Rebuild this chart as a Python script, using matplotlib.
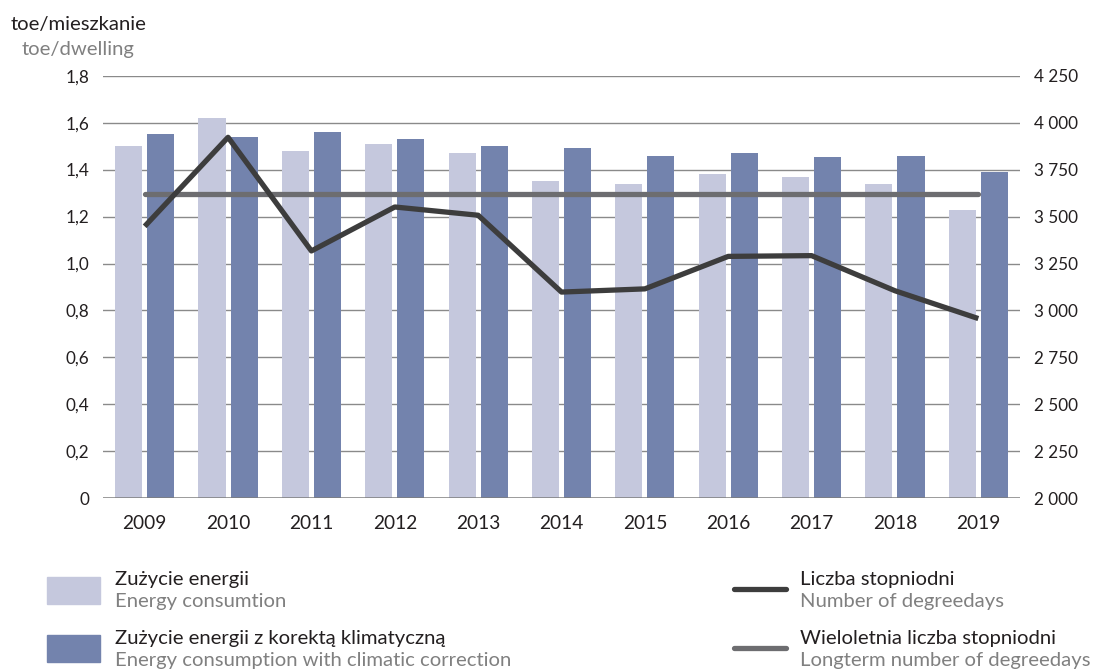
import matplotlib
matplotlib.use("Agg")
import matplotlib.pyplot as plt
from matplotlib.patches import Rectangle
from matplotlib.lines import Line2D
import numpy as np

# ---- data ----
years = ["2009", "2010", "2011", "2012", "2013", "2014", "2015", "2016", "2017", "2018", "2019"]
energy = [1.50, 1.62, 1.48, 1.51, 1.47, 1.35, 1.34, 1.38, 1.37, 1.34, 1.23]
energy_corr = [1.55, 1.54, 1.56, 1.53, 1.50, 1.49, 1.46, 1.47, 1.455, 1.46, 1.39]
degreedays = [3448, 3922, 3317, 3551, 3507, 3098, 3115, 3288, 3292, 3105, 2957]
longterm = [3621] * len(years)

left_ticks = [0, 0.2, 0.4, 0.6, 0.8, 1.0, 1.2, 1.4, 1.6, 1.8]
right_ticks = [2000, 2250, 2500, 2750, 3000, 3250, 3500, 3750, 4000, 4250]

# ---- style ----
FONT = ["Lato", "DejaVu Sans"]
plt.rcParams["font.family"] = FONT
C_LIGHT = "#c5c8dd"
C_DARK = "#7383ad"
C_LINE = "#3d3d3d"
C_LONG = "#6d6d70"
C_TEXT = "#231f20"
C_GRAY = "#808080"
C_GRID = "#8a8a8a"

W, H = 1095, 670
fig = plt.figure(figsize=(W / 100, H / 100), dpi=100)

def fx(px):
    return px / W

def fy(py):
    return 1 - py / H

ax_l, ax_r, ax_t, ax_b = 103, 1020, 75.7, 498.3
ax = fig.add_axes([fx(ax_l), fy(ax_b), fx(ax_r - ax_l), (ax_b - ax_t) / H])

x = np.arange(len(years))
bw = 0.325
off = 0.193
ax.bar(x - off, energy, width=bw, color=C_LIGHT, zorder=2)
ax.bar(x + off, energy_corr, width=bw, color=C_DARK, zorder=2)

ax.set_xlim(-0.5, len(years) - 0.5)
ax.set_ylim(0, 1.8)
ax.set_yticks(left_ticks)
ax.set_yticklabels(["0" if v == 0 else f"{v:.1f}".replace(".", ",") for v in left_ticks])
ax.set_xticks(x)
ax.set_xticklabels(years)
for v in left_ticks[1:]:
    ax.axhline(v, color=C_GRID, lw=1.0, zorder=1)
ax.axhline(0, color="#7d7d7d", lw=1.8, zorder=3)
for s in ax.spines.values():
    s.set_visible(False)
ax.tick_params(axis="y", length=0, pad=10, labelsize=12.3, labelcolor=C_TEXT)
ax.tick_params(axis="x", length=0, pad=12, labelsize=13.8, labelcolor=C_TEXT)

ax2 = ax.twinx()
ax2.set_ylim(2000, 4250)
ax2.set_yticks(right_ticks)
ax2.set_yticklabels([f"{v:,}".replace(",", " ") for v in right_ticks])
ax2.tick_params(axis="y", length=0, pad=10, labelsize=12.3, labelcolor=C_TEXT)
for s in ax2.spines.values():
    s.set_visible(False)
ax2.plot(x, longterm, color=C_LONG, lw=3.8, solid_capstyle="round", zorder=4)
ax2.plot(x, degreedays, color=C_LINE, lw=3.8, solid_capstyle="butt", zorder=5)

# ---- axis titles ----
fig.text(fx(11), fy(30), "toe/mieszkanie", fontsize=14.6, color=C_TEXT, va="baseline", ha="left")
fig.text(fx(22), fy(55.5), "toe/dwelling", fontsize=14.6, color=C_GRAY, va="baseline", ha="left")

# ---- legend ----
def patch(x0, y0, x1, y1, color):
    fig.patches.append(Rectangle((fx(x0), fy(y1)), fx(x1 - x0), (y1 - y0) / H,
                                 transform=fig.transFigure, color=color))

def lline(x0, x1, y, color):
    fig.lines.append(Line2D([fx(x0), fx(x1)], [fy(y), fy(y)], transform=fig.transFigure,
                            color=color, lw=3.8, solid_capstyle="round"))

patch(47, 577, 100, 603.5, C_LIGHT)
patch(47, 635, 100, 662, C_DARK)
fs_leg = 14.6
fig.text(fx(115), fy(585), "Zużycie energii", fontsize=fs_leg, color=C_TEXT, va="baseline")
fig.text(fx(115), fy(607), "Energy consumtion", fontsize=fs_leg, color=C_GRAY, va="baseline")
fig.text(fx(115), fy(644), "Zużycie energii z korektą klimatyczną", fontsize=fs_leg, color=C_TEXT, va="baseline")
fig.text(fx(115), fy(666), "Energy consumption with climatic correction", fontsize=fs_leg, color=C_GRAY, va="baseline")

lline(734, 786, 589, C_LINE)
lline(734, 786, 648, C_LONG)
fig.text(fx(800), fy(585), "Liczba stopniodni", fontsize=fs_leg, color=C_TEXT, va="baseline")
fig.text(fx(800), fy(607), "Number of degreedays", fontsize=fs_leg, color=C_GRAY, va="baseline")
fig.text(fx(800), fy(644), "Wieloletnia liczba stopniodni", fontsize=fs_leg, color=C_TEXT, va="baseline")
fig.text(fx(800), fy(666), "Longterm number of degreedays", fontsize=fs_leg, color=C_GRAY, va="baseline")

fig.savefig("out.png", dpi=100)
